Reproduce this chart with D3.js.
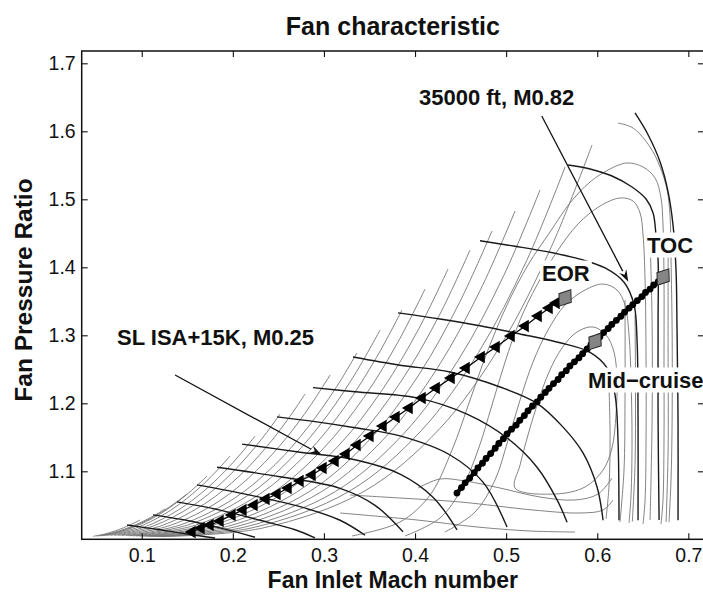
<!DOCTYPE html>
<html>
<head>
<meta charset="utf-8">
<script src="https://cdn.jsdelivr.net/npm/d3@7"></script>
<style>
  body { margin: 0; background: #fff; }
  svg { display: block; }
  text { font-family: "Liberation Sans", Arial, Helvetica, sans-serif; fill: #111; }
</style>
</head>
<body>
<svg id="chart" width="703" height="594"></svg>
<script>
// ---------- axis ticks ----------
const xTicks = [0.1, 0.2, 0.3, 0.4, 0.5, 0.6, 0.7];
const yTicks = [1.1, 1.2, 1.3, 1.4, 1.5, 1.6, 1.7];

// ---------- corrected speed lines [Mach, PR] ----------
const speedLines = [
  [[0.6415,1.627],[0.6558,1.595],[0.669,1.555],[0.6778,1.511],[0.6832,1.462],[0.6865,1.396],[0.6876,1.308],[0.6887,1.175],[0.6887,1.028]],
  [[0.568,1.5504],[0.5921,1.5446],[0.6162,1.5343],[0.6382,1.5181],[0.6536,1.5004],[0.6613,1.4799],[0.6645,1.4475],[0.6668,1.4107],[0.6668,1.3225],[0.6668,1.1754],[0.6679,1.0284]],
  [[0.4713,1.439],[0.5098,1.431],[0.5449,1.423],[0.5811,1.412],[0.6086,1.399],[0.6294,1.378],[0.6404,1.345],[0.6437,1.293],[0.6448,1.175],[0.6448,1.028]],
  [[0.3813,1.333],[0.4274,1.324],[0.4713,1.314],[0.5153,1.302],[0.5592,1.289],[0.5921,1.275],[0.6108,1.252],[0.6196,1.212],[0.6228,1.146],[0.6239,1.028]],
  [[0.3319,1.268],[0.3835,1.256],[0.4384,1.246],[0.4933,1.224],[0.5339,1.200],[0.5625,1.165],[0.5844,1.127],[0.5998,1.077],[0.6064,1.028]],
  [[0.288,1.223],[0.3341,1.217],[0.4022,1.208],[0.4571,1.184],[0.501,1.149],[0.5339,1.106],[0.5559,1.058],[0.5669,1.025]],
  [[0.2485,1.180],[0.2902,1.173],[0.3341,1.164],[0.3835,1.152],[0.4384,1.124],[0.4746,1.084],[0.501,1.018]],
  [[0.2101,1.140],[0.2738,1.128],[0.3341,1.117],[0.3835,1.096],[0.4197,1.062],[0.4461,1.014]],
  [[0.1827,1.106],[0.2518,1.092],[0.3177,1.075],[0.3561,1.050],[0.3868,1.011]],
  [[0.1607,1.080],[0.2189,1.065],[0.2738,1.048],[0.3177,1.028],[0.3451,1.006]],
  [[0.1387,1.055],[0.186,1.043],[0.2299,1.028],[0.2683,1.014],[0.2902,1.002]],
  [[0.1124,1.036],[0.153,1.027],[0.1914,1.015],[0.2244,1.003]],
  [[0.0839,1.021],[0.1201,1.014],[0.1585,1.006],[0.1805,1.002]]
];

// ---------- efficiency contours cut by the surge line ----------
const surgeContours = [
  [[0.0468,1.0044],[0.0589,1.0076],[0.0710,1.0124],[0.0800,1.0170],[0.0873,1.0212],[0.0933,1.0251],[0.0981,1.0284]],
  [[0.0509,1.0047],[0.0685,1.0096],[0.0861,1.0174],[0.0992,1.0250],[0.1098,1.0322],[0.1186,1.0388],[0.1256,1.0446]],
  [[0.0546,1.0051],[0.0769,1.0120],[0.0993,1.0237],[0.1161,1.0355],[0.1295,1.0468],[0.1407,1.0574],[0.1497,1.0666]],
  [[0.0578,1.0054],[0.0846,1.0144],[0.1114,1.0305],[0.1315,1.0473],[0.1475,1.0637],[0.1609,1.0793],[0.1717,1.0931]],
  [[0.0616,1.0056],[0.0935,1.0165],[0.1253,1.0373],[0.1492,1.0597],[0.1683,1.0819],[0.1842,1.1034],[0.1969,1.1225]],
  [[0.0658,1.0057],[0.1031,1.0181],[0.1404,1.0433],[0.1684,1.0712],[0.1908,1.0994],[0.2094,1.1270],[0.2244,1.1519]],
  [[0.0699,1.0057],[0.1127,1.0196],[0.1555,1.0491],[0.1876,1.0830],[0.2133,1.1180],[0.2347,1.1527],[0.2518,1.1843]],
  [[0.0740,1.0056],[0.1223,1.0203],[0.1706,1.0535],[0.2068,1.0927],[0.2358,1.1340],[0.2599,1.1755],[0.2793,1.2137]],
  [[0.0781,1.0055],[0.1319,1.0207],[0.1857,1.0568],[0.2260,1.1011],[0.2583,1.1484],[0.2852,1.1968],[0.3067,1.2416]],
  [[0.0825,1.0053],[0.1423,1.0211],[0.2020,1.0606],[0.2468,1.1104],[0.2825,1.1649],[0.3124,1.2212],[0.3363,1.2740]],
  [[0.0863,1.0052],[0.1511,1.0213],[0.2159,1.0640],[0.2644,1.1196],[0.3033,1.1815],[0.3357,1.2464],[0.3616,1.3078]],
  [[0.0900,1.0050],[0.1596,1.0210],[0.2291,1.0660],[0.2813,1.1263],[0.3231,1.1949],[0.3578,1.2677],[0.3857,1.3372]],
  [[0.0937,1.0049],[0.1684,1.0207],[0.2430,1.0678],[0.2990,1.1330],[0.3438,1.2085],[0.3811,1.2897],[0.4110,1.3681]],
  [[0.0975,1.0047],[0.1772,1.0203],[0.2569,1.0690],[0.3167,1.1386],[0.3645,1.2207],[0.4044,1.3103],[0.4362,1.3975]],
  [[0.1012,1.0046],[0.1857,1.0197],[0.2702,1.0695],[0.3336,1.1431],[0.3843,1.2315],[0.4266,1.3293],[0.4604,1.4254]],
  [[0.1048,1.0044],[0.1941,1.0190],[0.2835,1.0698],[0.3505,1.1471],[0.4041,1.2418],[0.4487,1.3479],[0.4845,1.4534]],
  [[0.1086,1.0043],[0.2030,1.0184],[0.2974,1.0701],[0.3682,1.1511],[0.4248,1.2524],[0.4720,1.3674],[0.5098,1.4828]],
  [[0.1127,1.0042],[0.2126,1.0178],[0.3125,1.0702],[0.3874,1.1551],[0.4473,1.2632],[0.4973,1.3877],[0.5372,1.5137]],
  [[0.1168,1.0041],[0.2222,1.0172],[0.3276,1.0705],[0.4066,1.1595],[0.4698,1.2750],[0.5225,1.4098],[0.5647,1.5475]],
  [[0.1212,1.0040],[0.2325,1.0165],[0.3439,1.0704],[0.4273,1.1630],[0.4941,1.2855],[0.5497,1.4304],[0.5943,1.5799]]
];

// ---------- efficiency contours turning over into the choke region ----------
const islandContours = [
  [[0.6228,1.6122],[0.6393,1.6049],[0.6580,1.5769],[0.6690,1.5475],[0.6767,1.5137],[0.6800,1.4740],[0.6810,1.4107],[0.6822,1.3078],[0.6822,1.1754],[0.6810,1.0872],[0.6788,1.0254]],
  [[0.3308,1.0049],[0.3835,1.0254],[0.4165,1.0651],[0.4406,1.1313],[0.4604,1.2049],[0.4801,1.2784],[0.5010,1.3446],[0.5240,1.4034],[0.5482,1.4519],[0.5701,1.4946],[0.5921,1.5254],[0.6119,1.5431],[0.6327,1.5534],[0.6503,1.5475],[0.6635,1.5313],[0.6700,1.5019],[0.6722,1.4622],[0.6733,1.3813],[0.6733,1.2637],[0.6733,1.1460],[0.6722,1.0578],[0.6700,1.0225]],
  [[0.3890,1.0049],[0.4274,1.0313],[0.4516,1.0754],[0.4692,1.1313],[0.4845,1.1975],[0.4988,1.2607],[0.5153,1.3225],[0.5339,1.3740],[0.5548,1.4210],[0.5789,1.4637],[0.6031,1.4901],[0.6250,1.5019],[0.6393,1.4975],[0.6470,1.4799],[0.6503,1.4475],[0.6525,1.3813],[0.6536,1.2637],[0.6536,1.1460],[0.6525,1.0578],[0.6503,1.0225]],
  [[0.4329,1.0107],[0.4659,1.0401],[0.4878,1.0872],[0.5021,1.1460],[0.5153,1.2049],[0.5295,1.2607],[0.5460,1.3078],[0.5647,1.3446],[0.5866,1.3666],[0.6064,1.3754],[0.6217,1.3666],[0.6305,1.3446],[0.6349,1.3005],[0.6371,1.2343],[0.6382,1.1460],[0.6371,1.0651],[0.6349,1.0240]],
  [[0.4033,1.0754],[0.4274,1.0887],[0.4549,1.0857],[0.4933,1.0754],[0.5372,1.0622],[0.5756,1.0578],[0.6009,1.0666],[0.6162,1.0901]],
  [[0.3287,1.0651],[0.3835,1.0607],[0.4494,1.0549],[0.5295,1.0431],[0.5811,1.0387],[0.6064,1.0431],[0.6173,1.0578]],
  [[0.3177,1.0387],[0.4022,1.0284],[0.4681,1.0181],[0.5262,1.0122],[0.5756,1.0107]],
  [[0.6580,1.4401],[0.6602,1.3225],[0.6602,1.1754],[0.6580,1.0284]],
  [[0.6305,1.3519],[0.6305,1.2049],[0.6294,1.1019],[0.6250,1.0254]],
  [[0.6778,1.4254],[0.6778,1.2784],[0.6778,1.1313],[0.6756,1.0254]],
  [[0.6130,1.2200],[0.6141,1.1500],[0.6130,1.0800],[0.6097,1.0300]],
  [[0.6415,1.3300],[0.6420,1.2200],[0.6415,1.1100],[0.6385,1.0260]]
];

// innermost closed efficiency island
const peakIsland = [[0.5098,1.0754],[0.5537,1.0666],[0.5866,1.0769],[0.6064,1.1019],[0.6162,1.1343],[0.6206,1.1828],[0.6217,1.2343],[0.6184,1.2754],[0.6097,1.3004],[0.5954,1.3122],[0.5778,1.3049],[0.5614,1.2814],[0.5471,1.2460],[0.5350,1.2019],[0.5240,1.1534],[0.5153,1.1093]];

// ---------- operating lines ----------
// SL ISA+15K, M0.25
const slMach = [0.1552,0.1651,0.1750,0.1860,0.1991,0.2112,0.2233,0.2364,0.2485,0.2606,0.2738,0.2870,0.2990,0.3122,0.3243,0.3364,0.3506,0.3649,0.3792,0.3935,0.4078,0.4232,0.4396,0.4561,0.4726,0.4890,0.5055,0.5209,0.5352,0.5472,0.5549];
const slPR   = [1.0107,1.0166,1.0210,1.0269,1.0357,1.0431,1.0504,1.0593,1.0666,1.0754,1.0857,1.0946,1.1049,1.1151,1.1254,1.1387,1.1519,1.1666,1.1799,1.1931,1.2078,1.2225,1.2372,1.2519,1.2681,1.2828,1.2990,1.3137,1.3284,1.3401,1.3475];

// 35000 ft, M0.82
const cruiseMach = [0.446,0.451,0.455,0.460,0.465,0.469,0.474,0.478,0.483,0.488,0.492,0.497,0.501,0.506,0.511,0.515,0.520,0.524,0.529,0.534,0.538,0.543,0.547,0.552,0.557,0.561,0.566,0.570,0.575,0.580,0.584,0.589,0.593,0.598,0.603,0.607,0.612,0.616,0.621,0.626,0.630,0.635,0.639,0.644,0.649,0.653,0.658,0.662,0.667,0.672];
const cruisePR   = [1.068,1.076,1.083,1.090,1.098,1.105,1.112,1.119,1.126,1.134,1.141,1.148,1.155,1.162,1.168,1.175,1.182,1.189,1.196,1.202,1.209,1.216,1.222,1.229,1.235,1.242,1.248,1.255,1.261,1.267,1.273,1.280,1.286,1.292,1.298,1.304,1.310,1.316,1.322,1.328,1.334,1.340,1.345,1.351,1.357,1.363,1.368,1.374,1.379,1.385];

// key operating points
const keyNames = ["EOR", "Mid−cruise", "TOC"];
const keyMach  = [0.5647, 0.5976, 0.6723];
const keyPR    = [1.3549, 1.2909, 1.3857];

// ---------- layout ----------
const svg = d3.select("#chart");
const plot = { left: 81.7, right: 704, top: 51, bottom: 539.3 };
const x = d3.scaleLinear().domain([0.0341, 0.7172]).range([plot.left, plot.right]);
const y = d3.scaleLinear().domain([1.0, 1.7181]).range([plot.bottom, plot.top]);

svg.append("rect").attr("width", 703).attr("height", 594).attr("fill", "#fff");

svg.append("defs").append("clipPath").attr("id", "plotClip")
  .append("rect")
  .attr("x", plot.left).attr("y", plot.top)
  .attr("width", plot.right - plot.left).attr("height", plot.bottom - plot.top);

const smooth = d3.line().x(d => x(d[0])).y(d => y(d[1])).curve(d3.curveCatmullRom.alpha(0.5));
const smoothClosed = d3.line().x(d => x(d[0])).y(d => y(d[1])).curve(d3.curveCatmullRomClosed.alpha(0.5));
const straight = d3.line().x(d => x(d[0])).y(d => y(d[1]));

const map = svg.append("g").attr("clip-path", "url(#plotClip)");

// efficiency contours (thin grey)
map.append("g").selectAll("path").data(surgeContours.concat(islandContours)).join("path")
  .attr("d", smooth).attr("fill", "none").attr("stroke", "#757575").attr("stroke-width", 0.9);
map.append("path").datum(peakIsland).attr("d", smoothClosed)
  .attr("fill", "none").attr("stroke", "#757575").attr("stroke-width", 0.9);

// speed lines (dark)
map.append("g").selectAll("path").data(speedLines).join("path")
  .attr("d", smooth).attr("fill", "none").attr("stroke", "#1a1a1a").attr("stroke-width", 1.4);

// SL operating line with triangle markers
const slPts = slMach.map((m, i) => [m, slPR[i]]);
map.append("path").datum(slPts).attr("d", straight)
  .attr("fill", "none").attr("stroke", "#000").attr("stroke-width", 1.2);
map.append("g").selectAll("path").data(slPts).join("path")
  .attr("d", d3.symbol(d3.symbolTriangle, 68)())
  .attr("transform", d => `translate(${x(d[0])},${y(d[1])}) rotate(-90)`)
  .attr("fill", "#000");

// cruise operating line with dot markers
const crPts = cruiseMach.map((m, i) => [m, cruisePR[i]]);
map.append("path").datum(crPts).attr("d", straight)
  .attr("fill", "none").attr("stroke", "#000").attr("stroke-width", 4);
map.append("g").selectAll("circle").data(crPts).join("circle")
  .attr("cx", d => x(d[0])).attr("cy", d => y(d[1])).attr("r", 3.4).attr("fill", "#000");

// key points (grey diamonds)
map.append("g").selectAll("path").data(keyMach.map((m, i) => [m, keyPR[i]])).join("path")
  .attr("d", "M0,-10L7.5,0L0,10L-7.5,0Z")
  .attr("transform", d => `translate(${x(d[0])},${y(d[1])}) rotate(35)`)
  .attr("fill", "#858585").attr("stroke", "#2a2a2a").attr("stroke-width", 1);

// ---------- annotation arrows ----------
function arrow(from, to) {
  const x0 = x(from[0]), y0 = y(from[1]), x1 = x(to[0]), y1 = y(to[1]);
  const a = Math.atan2(y1 - y0, x1 - x0);
  const len = 12, half = 4;
  const bx = x1 - len * Math.cos(a), by = y1 - len * Math.sin(a);
  svg.append("line").attr("x1", x0).attr("y1", y0).attr("x2", bx).attr("y2", by)
    .attr("stroke", "#111").attr("stroke-width", 1.3);
  const px = -Math.sin(a) * half, py = Math.cos(a) * half;
  svg.append("path")
    .attr("d", `M${x1},${y1}L${bx + px},${by + py}L${x1 - 8 * Math.cos(a)},${y1 - 8 * Math.sin(a)}L${bx - px},${by - py}Z`)
    .attr("fill", "#111");
}
arrow([0.5391, 1.6225], [0.6341, 1.3788]);
arrow([0.1366, 1.2416], [0.2976, 1.1240]);

// ---------- text labels ----------
function label(txt, px, py, size, boxed) {
  const t = svg.append("text").attr("x", px).attr("y", py)
    .attr("font-size", size).attr("font-weight", "bold").text(txt);
  if (boxed) {
    const b = t.node().getBBox();
    svg.insert("rect", () => t.node())
      .attr("x", b.x - 2).attr("y", b.y).attr("width", b.width + 4).attr("height", b.height)
      .attr("fill", "#fff");
  }
  return t;
}
label("35000 ft, M0.82", 419, 105, 22, false);
label("SL ISA+15K, M0.25", 117, 345, 22, false);
label(keyNames[0], 542, 280.5, 22, true);
label(keyNames[2], 647, 252.5, 22, true);
label(keyNames[1], 588, 387.5, 22, true);

// ---------- axes ----------
const fmt = d3.format(".1f");
function styleAxis(g) {
  g.select(".domain").remove();
  g.selectAll(".tick line").attr("stroke", "#111").attr("stroke-width", 1.1);
  g.selectAll("text").attr("font-size", 19.5).attr("font-family", '"Liberation Sans", Arial, sans-serif').attr("fill", "#111");
}
svg.append("g").attr("transform", `translate(0,${plot.bottom})`)
  .call(d3.axisBottom(x).tickValues(xTicks).tickFormat(fmt).tickSize(-6).tickPadding(9)).call(styleAxis);
svg.append("g").attr("transform", `translate(0,${plot.top})`)
  .call(d3.axisTop(x).tickValues(xTicks).tickFormat("").tickSize(-6)).call(styleAxis);
svg.append("g").attr("transform", `translate(${plot.left},0)`)
  .call(d3.axisLeft(y).tickValues(yTicks).tickFormat(fmt).tickSize(-6).tickPadding(6)).call(styleAxis);
svg.append("g").attr("transform", `translate(${plot.right},0)`)
  .call(d3.axisRight(y).tickValues(yTicks).tickFormat("").tickSize(-6)).call(styleAxis);

svg.append("rect")
  .attr("x", plot.left).attr("y", plot.top)
  .attr("width", plot.right - plot.left).attr("height", plot.bottom - plot.top)
  .attr("fill", "none").attr("stroke", "#111").attr("stroke-width", 1.5);

// titles
svg.append("text").attr("x", (plot.left + plot.right) / 2).attr("y", 35)
  .attr("text-anchor", "middle").attr("font-size", 25).attr("font-weight", "bold")
  .text("Fan characteristic");
svg.append("text").attr("x", (plot.left + plot.right) / 2).attr("y", 588)
  .attr("text-anchor", "middle").attr("font-size", 23).attr("font-weight", "bold")
  .text("Fan Inlet Mach number");
svg.append("text").attr("transform", "translate(32,290) rotate(-90)")
  .attr("text-anchor", "middle").attr("font-size", 24.5).attr("font-weight", "bold")
  .text("Fan Pressure Ratio");
</script>
</body>
</html>
